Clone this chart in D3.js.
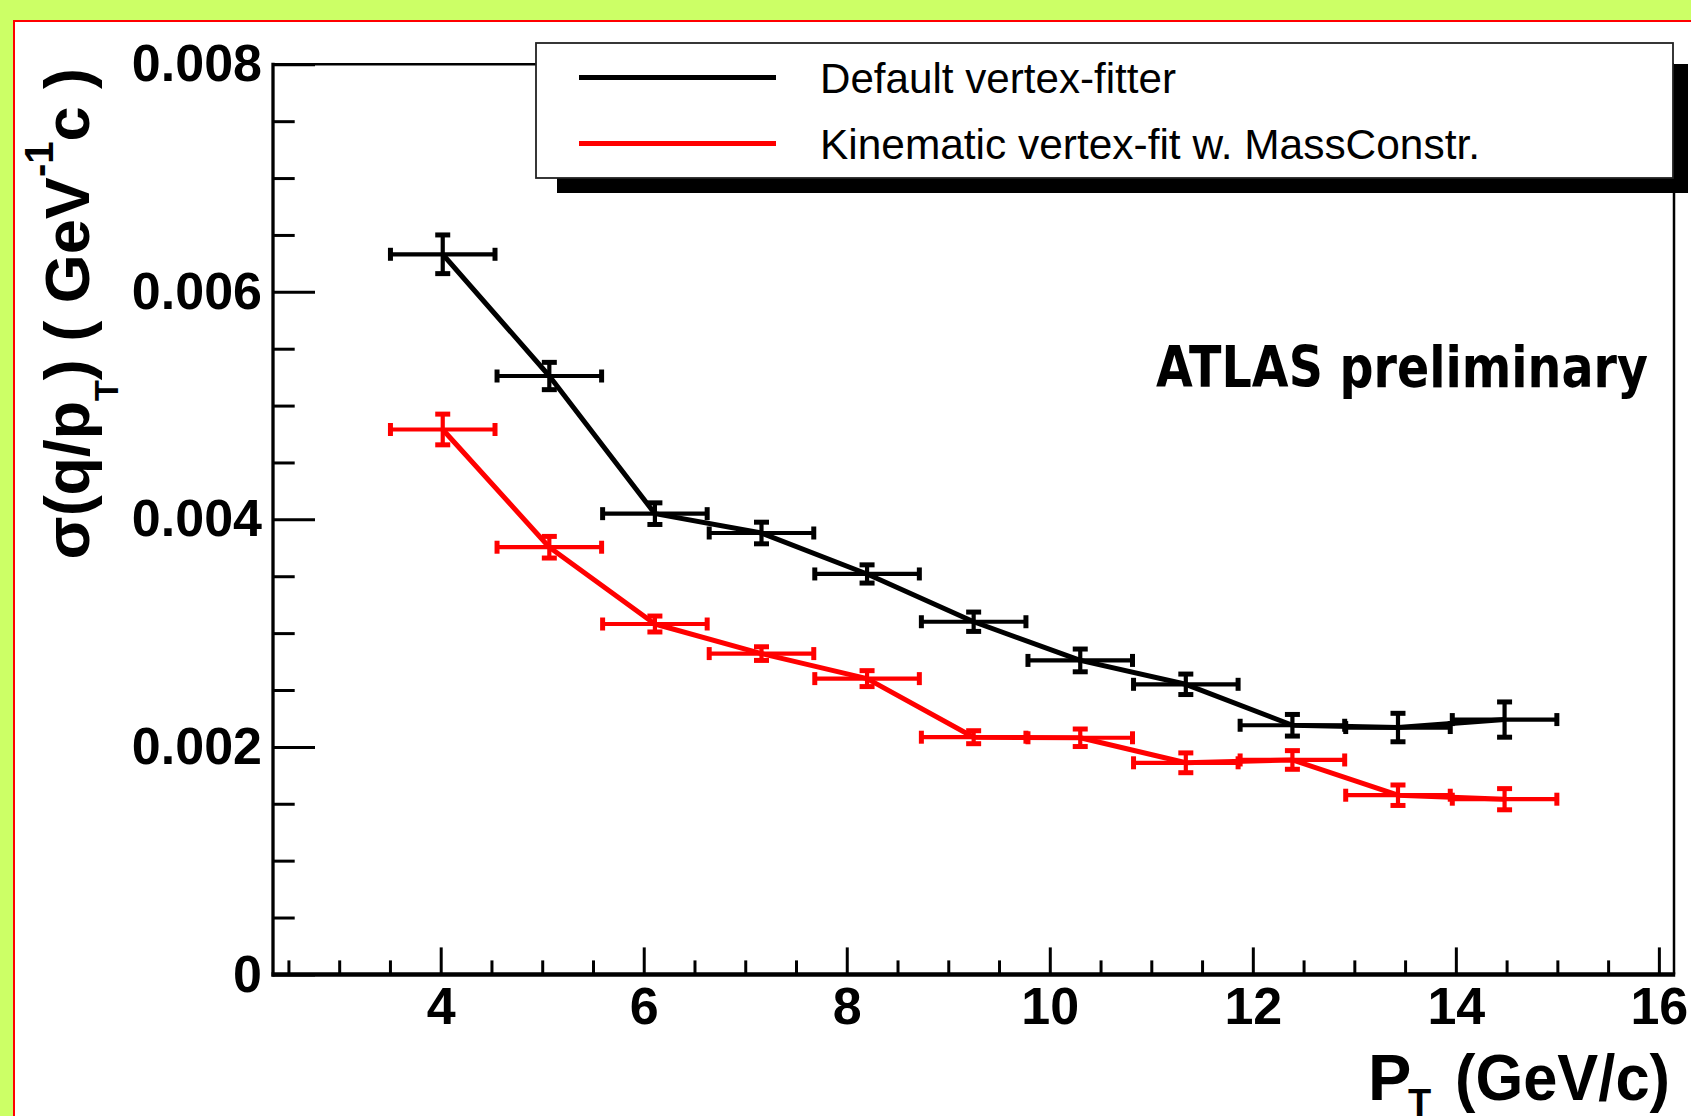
<!DOCTYPE html>
<html>
<head>
<meta charset="utf-8">
<script src="https://d3js.org/d3.v7.min.js"></script>
<style>
  html, body { margin: 0; padding: 0; background: #ccff66; }
  svg { display: block; }
</style>
</head>
<body>
<div id="chart"></div>
<script>
// pT bin centres (GeV/c) and half bin width
const ptCenters = [4.02, 5.07, 6.11, 7.16, 8.20, 9.25, 10.30, 11.34, 12.39, 13.43, 14.48];
const ptHalfWidth = [0.515, 0.515, 0.515, 0.515, 0.515, 0.515, 0.515, 0.515, 0.515, 0.515, 0.515];

// sigma(q/pT) for the default vertex fitter
const defaultSigma = [0.00633, 0.00526, 0.00405, 0.00388, 0.00352, 0.00310, 0.00276, 0.00255, 0.00219, 0.00217, 0.00224];
const defaultErr   = [0.00017, 0.00012, 0.000095, 0.000095, 0.00008, 0.000085, 0.0001, 0.00009, 0.000095, 0.000125, 0.000155];

// sigma(q/pT) for the kinematic vertex fit with mass constraint
const kinematicSigma = [0.00479, 0.003755, 0.00308, 0.00282, 0.00260, 0.002085, 0.00208, 0.00186, 0.001885, 0.001575, 0.00154];
const kinematicErr   = [0.000135, 0.000095, 0.00007, 0.00006, 0.00007, 0.000057, 0.000077, 0.000087, 0.000082, 0.00009, 0.000093];

const xMajorTicks = [4, 6, 8, 10, 12, 14, 16];
const yMajorTicks = [0, 0.002, 0.004, 0.006, 0.008];
const yTickLabels = ["0", "0.002", "0.004", "0.006", "0.008"];

const legendLabels = ["Default vertex-fitter", "Kinematic vertex-fit w. MassConstr."];

document.addEventListener('DOMContentLoaded', function () {
    const width = 1691;
    const height = 1116;

    const svg = d3.select('#chart')
        .append('svg')
        .attr('width', width)
        .attr('height', height);

    // white pad with red edge on the green page
    svg.append('rect')
        .attr('x', 14).attr('y', 21)
        .attr('width', width + 20).attr('height', height + 20)
        .attr('fill', '#ffffff')
        .attr('stroke', '#ff0000')
        .attr('stroke-width', 2);

    // frame
    const left = 273, right = 1674, top = 64.3, bottom = 974.4;

    const x = d3.scaleLinear().domain([2.348, 16.149]).range([left, right]);
    const y = d3.scaleLinear().domain([0, 0.008]).range([bottom, top]);

    const fontTicks = '"Liberation Sans", Arial, Helvetica, sans-serif';

    // minor ticks
    const xMinor = d3.range(5, 33).map(d => d / 2).filter(d => !xMajorTicks.includes(d));
    const yMinor = d3.range(1, 16).map(d => d * 0.0005).filter((d, i) => (i + 1) % 4 !== 0);

    const xMinorAxis = d3.axisBottom(x).tickValues(xMinor).tickSize(-14).tickFormat('');
    const xAxis = d3.axisBottom(x).tickValues(xMajorTicks).tickSize(-27).tickPadding(13)
        .tickFormat(d3.format('d'));
    const yMinorAxis = d3.axisLeft(y).tickValues(yMinor).tickSize(-21.7).tickFormat('');
    const yAxis = d3.axisLeft(y).tickValues(yMajorTicks).tickSize(-42).tickPadding(11)
        .tickFormat((d, i) => yTickLabels[i]);

    function styleAxis(g) {
        g.select('.domain').remove();
        g.selectAll('.tick line').attr('stroke', '#000').attr('stroke-width', 3);
        g.selectAll('.tick text')
            .attr('fill', '#000')
            .style('font-family', fontTicks)
            .style('font-weight', 'bold');
    }

    svg.append('g').attr('transform', `translate(0,${bottom})`).call(xMinorAxis).call(styleAxis);
    svg.append('g').attr('transform', `translate(0,${bottom})`).call(xAxis).call(styleAxis)
        .selectAll('.tick text').style('font-size', '52px');
    svg.append('g').attr('transform', `translate(${left},0)`).call(yMinorAxis).call(styleAxis);
    svg.append('g').attr('transform', `translate(${left},0)`).call(yAxis).call(styleAxis)
        .selectAll('.tick text').style('font-size', '52px');

    // frame lines
    svg.append('line').attr('x1', left).attr('x2', right).attr('y1', top).attr('y2', top)
        .attr('stroke', '#000').attr('stroke-width', 2.5);
    svg.append('line').attr('x1', right).attr('x2', right).attr('y1', top).attr('y2', bottom)
        .attr('stroke', '#000').attr('stroke-width', 2.5);
    svg.append('line').attr('x1', left).attr('x2', left).attr('y1', top - 1.5).attr('y2', bottom + 2)
        .attr('stroke', '#000').attr('stroke-width', 3.3);
    svg.append('line').attr('x1', left - 1.5).attr('x2', right + 1.2).attr('y1', bottom).attr('y2', bottom)
        .attr('stroke', '#000').attr('stroke-width', 4.5);

    // series
    const series = [
        { name: legendLabels[0], color: '#000000', values: defaultSigma, errs: defaultErr },
        { name: legendLabels[1], color: '#ff0000', values: kinematicSigma, errs: kinematicErr }
    ];

    const line = d3.line()
        .x(d => x(d.pt))
        .y(d => y(d.v));

    series.forEach(function (s) {
        const pts = ptCenters.map((pt, i) => ({ pt: pt, hw: ptHalfWidth[i], v: s.values[i], e: s.errs[i] }));
        const g = svg.append('g');

        g.append('path')
            .datum(pts)
            .attr('d', line)
            .attr('fill', 'none')
            .attr('stroke', s.color)
            .attr('stroke-width', 5)
            .attr('stroke-linejoin', 'round');

        const bars = g.selectAll('.err')
            .data(pts)
            .enter().append('g')
            .attr('class', 'err')
            .attr('stroke', s.color);

        // horizontal bin width
        bars.append('line')
            .attr('x1', d => x(d.pt - d.hw)).attr('x2', d => x(d.pt + d.hw))
            .attr('y1', d => y(d.v)).attr('y2', d => y(d.v))
            .attr('stroke-width', 4.2);
        // vertical error
        bars.append('line')
            .attr('x1', d => x(d.pt)).attr('x2', d => x(d.pt))
            .attr('y1', d => y(d.v - d.e)).attr('y2', d => y(d.v + d.e))
            .attr('stroke-width', 4.2);
        // end caps
        [-1, 1].forEach(function (sgn) {
            bars.append('line')
                .attr('x1', d => x(d.pt + sgn * d.hw)).attr('x2', d => x(d.pt + sgn * d.hw))
                .attr('y1', d => y(d.v) - 6.5).attr('y2', d => y(d.v) + 6.5)
                .attr('stroke-width', 5);
            bars.append('line')
                .attr('x1', d => x(d.pt) - 7.5).attr('x2', d => x(d.pt) + 7.5)
                .attr('y1', d => y(d.v + sgn * d.e)).attr('y2', d => y(d.v + sgn * d.e))
                .attr('stroke-width', 5);
        });
    });

    // axis titles
    const yTitle = svg.append('text')
        .attr('transform', 'translate(89,68) rotate(-90)')
        .attr('text-anchor', 'end')
        .style('font-family', fontTicks)
        .style('font-weight', 'bold')
        .style('font-size', '63px')
        .attr('fill', '#000');
    yTitle.append('tspan').text('σ(q/p');
    yTitle.append('tspan').attr('dy', 29).style('font-size', '34px').text('T');
    yTitle.append('tspan').attr('dy', -29).text(') ( GeV');
    yTitle.append('tspan').attr('dy', -36).style('font-size', '40px').text('-1');
    yTitle.append('tspan').attr('dy', 36).text('c )');

    svg.append('text')
        .attr('x', 1368).attr('y', 1100)
        .style('font-family', fontTicks).style('font-weight', 'bold').style('font-size', '65px')
        .text('P');
    svg.append('text')
        .attr('x', 1408).attr('y', 1116)
        .style('font-family', fontTicks).style('font-weight', 'bold').style('font-size', '38px')
        .text('T');
    svg.append('text')
        .attr('x', 1670).attr('y', 1100)
        .attr('text-anchor', 'end')
        .attr('textLength', 215).attr('lengthAdjust', 'spacingAndGlyphs')
        .style('font-family', fontTicks).style('font-weight', 'bold').style('font-size', '65px')
        .text('(GeV/c)');

    // legend with shadow
    svg.append('rect')
        .attr('x', 557).attr('y', 64).attr('width', 1131).attr('height', 129)
        .attr('fill', '#000');
    svg.append('rect')
        .attr('x', 536).attr('y', 43).attr('width', 1137).attr('height', 135)
        .attr('fill', '#fff').attr('stroke', '#222').attr('stroke-width', 1.8);

    const legendRows = [
        { y: 77.6, base: 93, len: 356 },
        { y: 143.4, base: 159.3, len: 660 }
    ];
    series.forEach(function (s, i) {
        svg.append('line')
            .attr('x1', 579).attr('x2', 776)
            .attr('y1', legendRows[i].y).attr('y2', legendRows[i].y)
            .attr('stroke', s.color).attr('stroke-width', 5);
        svg.append('text')
            .attr('x', 820).attr('y', legendRows[i].base)
            .attr('textLength', legendRows[i].len).attr('lengthAdjust', 'spacingAndGlyphs')
            .style('font-family', fontTicks).style('font-size', '42px')
            .attr('fill', '#000')
            .text(s.name);
    });

    // label
    svg.append('text')
        .attr('x', 1156).attr('y', 386.7)
        .attr('textLength', 492).attr('lengthAdjust', 'spacingAndGlyphs')
        .style('font-family', 'Tahoma, Verdana, "DejaVu Sans", sans-serif')
        .style('font-weight', 'bold').style('font-size', '57px')
        .text('ATLAS preliminary');
});
</script>
</body>
</html>
